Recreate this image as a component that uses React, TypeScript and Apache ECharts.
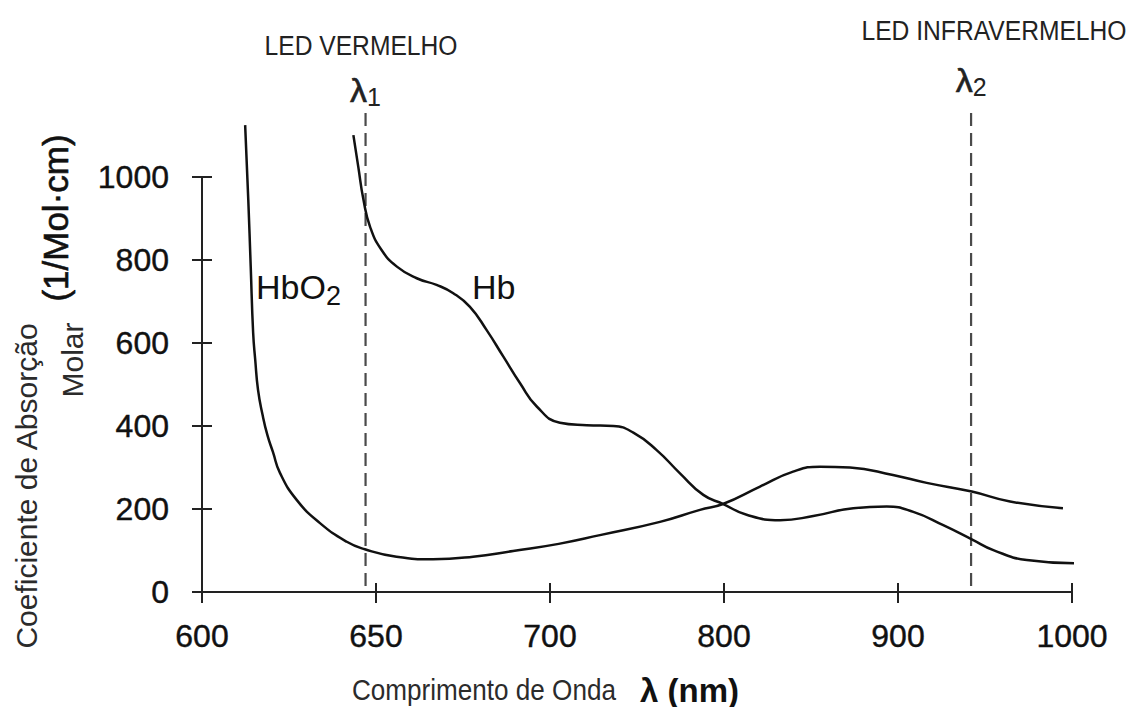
import React, { useEffect, useRef } from 'react';
import * as echarts from 'echarts';

// Axis ticks (wavelength in nm) – the original axis spaces them evenly
const tickNm = [600, 650, 700, 800, 900, 1000];
const tickLabels = ['600', '650', '700', '800', '900', '1000'];
const yMin = 0;
const yMax = 1000;
const yStep = 200;
const yTickValues = [0, 200, 400, 600, 800, 1000];

// HbO2 absorption curve (nm, molar absorption coefficient)
const hbo2Nm = [612.4, 613.3, 614.0, 614.7, 615.3, 616.1, 617.4, 618.8, 620.4, 622.4, 627.2, 633.9, 641.6, 646.8, 655.9, 666.4, 677.9, 689.4, 705, 728.7, 763.2, 786.2, 799.4, 820.7, 839.7, 855.2, 872.4, 897.1, 916.5, 942.4, 964.4, 994.8];
const hbo2Val = [1125, 945, 784, 624, 559, 487, 427, 378, 337, 287, 222, 166, 121, 103, 85, 79, 85, 99, 116, 137, 169, 198, 212, 254, 290, 302, 300, 282, 263, 242, 218, 202];

// Hb absorption curve
const hbNm = [643.5, 644.9, 646.4, 648.3, 651.6, 656, 661.7, 667.4, 672.2, 677, 681.8, 686.6, 691.4, 696.2, 705.7, 721.1, 736.4, 747.9, 761.3, 774.7, 788.1, 799.6, 813, 832.2, 851.3, 874.3, 893.5, 908.8, 926, 942.4, 954.8, 974, 1002];
const hbVal = [1101, 1025, 945, 880, 824, 784, 756, 740, 720, 687, 631, 567, 503, 447, 408, 402, 400, 384, 342, 286, 234, 212, 186, 173, 183, 202, 206, 193, 161, 127, 101, 77, 69];

// LED wavelengths (dashed markers)
const ledNm = [647, 942];
const ledSub = ['1', '2'];
const ledTop = 1154;

const FONT = '"Liberation Sans", Arial, Helvetica, sans-serif';

function nmToPos(nm: number): number {
  for (let i = 0; i < tickNm.length - 1; i++) {
    if (nm <= tickNm[i + 1] || i === tickNm.length - 2) {
      return i + (nm - tickNm[i]) / (tickNm[i + 1] - tickNm[i]);
    }
  }
  return 0;
}

const AXIS_COLOR = '#222';
const GRID = { left: 202, right: 65, top: 177, bottom: 115 };
const CHART_W = 1137;
const CHART_H = 707;

export default function App() {
  const ref = useRef<HTMLDivElement>(null);

  useEffect(() => {
    if (!ref.current) return;
    const chart = echarts.init(ref.current, undefined, { renderer: 'svg' });

    // inner half of the crossing ticks (9-10 px), expressed in axis units
    const plotW = CHART_W - GRID.left - GRID.right;
    const plotH = CHART_H - GRID.top - GRID.bottom;
    const xUnitsPerPx = (tickNm.length - 1) / plotW;
    const yUnitsPerPx = (yMax - yMin) / plotH;
    const innerTickLines = [
      ...tickLabels.map((_, i) => [
        { coord: [i, yMin] },
        { coord: [i, yMin + 9 * yUnitsPerPx] },
      ]),
      ...yTickValues.map((v) => [
        { coord: [0, v] },
        { coord: [10 * xUnitsPerPx, v] },
      ]),
    ];

    const ledSeries = ledNm.map((nm, k) => ({
      type: 'line',
      data: [
        {
          value: [nmToPos(nm), ledTop],
          label: {
            show: true,
            position: 'top',
            distance: k === 0 ? 3 : 13,
            formatter: '{l|λ}{s|' + ledSub[k] + '}',
            rich: {
              l: { fontSize: 34, fontFamily: FONT, color: '#222', lineHeight: 40, verticalAlign: 'middle', textBorderColor: '#222', textBorderWidth: 0.6 },
              s: { fontSize: 25, fontFamily: FONT, color: '#222', lineHeight: 24, verticalAlign: 'bottom' },
            },
          },
        },
        { value: [nmToPos(nm), 0] },
      ],
      symbol: 'circle',
      symbolSize: 1,
      showSymbol: true,
      itemStyle: { color: 'rgba(0,0,0,0)' },
      clip: false,
      silent: true,
      z: 1,
      lineStyle: { color: '#4a4a4a', width: 2.2, type: [13, 7] },
    }));

    const option: any = {
      animation: false,
      backgroundColor: '#ffffff',
      grid: { ...GRID },
      xAxis: {
        type: 'value',
        min: 0,
        max: tickNm.length - 1,
        interval: 1,
        position: 'bottom',
        splitLine: { show: false },
        axisLine: { show: true, onZero: false, lineStyle: { color: AXIS_COLOR, width: 2 } },
        axisTick: { show: true, inside: false, length: 11, lineStyle: { color: AXIS_COLOR, width: 2 } },
        axisLabel: {
          formatter: (v: number) => tickLabels[Math.round(v)] ?? '',
          fontSize: 32,
          color: '#111',
          fontFamily: FONT,
          margin: 28,
          textBorderColor: '#111',
          textBorderWidth: 0.4,
        },
      },
      yAxis: {
        type: 'value',
        min: yMin,
        max: yMax,
        interval: yStep,
        position: 'left',
        splitLine: { show: false },
        axisLine: { show: true, onZero: false, lineStyle: { color: AXIS_COLOR, width: 2 } },
        axisTick: { show: true, inside: false, length: 10, lineStyle: { color: AXIS_COLOR, width: 2 } },
        axisLabel: {
          formatter: (v: number) => String(v),
          fontSize: 32,
          color: '#111',
          fontFamily: FONT,
          margin: 33,
          textBorderColor: '#111',
          textBorderWidth: 0.4,
        },
      },
      series: [
        ...ledSeries,
        {
          name: 'HbO2',
          type: 'line',
          data: hbo2Nm.map((n, i) => [nmToPos(n), hbo2Val[i]]),
          smooth: 0.5,
          symbol: 'none',
          clip: false,
          z: 3,
          lineStyle: { color: '#111', width: 2.5 },
          markLine: {
            silent: true,
            animation: false,
            symbol: ['none', 'none'],
            label: { show: false },
            emphasis: { disabled: true },
            lineStyle: { color: AXIS_COLOR, width: 2, type: 'solid' },
            data: innerTickLines,
          },
        },
        {
          name: 'Hb',
          type: 'line',
          data: hbNm.map((n, i) => [nmToPos(n), hbVal[i]]),
          smooth: 0.5,
          symbol: 'none',
          clip: false,
          z: 3,
          lineStyle: { color: '#111', width: 2.5 },
        },
      ],
      graphic: [
        {
          type: 'text',
          x: 361,
          y: 45,
          scaleX: 0.88,
          style: { text: 'LED VERMELHO', fontSize: 28, fontFamily: FONT, fill: '#222', align: 'center', verticalAlign: 'middle' },
        },
        {
          type: 'text',
          x: 994,
          y: 30,
          scaleX: 0.88,
          style: { text: 'LED INFRAVERMELHO', fontSize: 28, fontFamily: FONT, fill: '#222', align: 'center', verticalAlign: 'middle' },
        },
        {
          type: 'text',
          x: 352,
          y: 690,
          scaleX: 0.9,
          style: { text: 'Comprimento de Onda', fontSize: 29, fontFamily: FONT, fill: '#2b2b2b', align: 'left', verticalAlign: 'middle' },
        },
        {
          type: 'text',
          x: 640,
          y: 690,
          style: { text: 'λ (nm)', fontSize: 33, fontWeight: 'bold', fontFamily: FONT, fill: '#111', align: 'left', verticalAlign: 'middle' },
        },
        {
          type: 'text',
          x: 256,
          y: 287,
          style: {
            text: '{m|HbO}{s|2}',
            align: 'left',
            verticalAlign: 'middle',
            rich: {
              m: { fontSize: 34, fontFamily: FONT, fill: '#111', color: '#111', lineHeight: 44, verticalAlign: 'middle' },
              s: { fontSize: 27, fontFamily: FONT, fill: '#111', color: '#111', lineHeight: 26, verticalAlign: 'bottom' },
            },
          },
        },
        {
          type: 'text',
          x: 472,
          y: 287,
          style: { text: 'Hb', fontSize: 34, fontFamily: FONT, fill: '#111', align: 'left', verticalAlign: 'middle' },
        },
        {
          type: 'text',
          x: 26,
          y: 486,
          rotation: Math.PI / 2,
          style: { text: 'Coeficiente de Absorção', fontSize: 30, fontFamily: FONT, fill: '#2b2b2b', align: 'center', verticalAlign: 'middle' },
        },
        {
          type: 'text',
          x: 72,
          y: 360,
          rotation: Math.PI / 2,
          style: { text: 'Molar', fontSize: 30, fontFamily: FONT, fill: '#2b2b2b', align: 'center', verticalAlign: 'middle' },
        },
        {
          type: 'text',
          x: 55,
          y: 218,
          rotation: Math.PI / 2,
          style: { text: '(1/Mol·cm)', fontSize: 35, fontFamily: FONT, fill: '#111', align: 'center', verticalAlign: 'middle', stroke: '#111', lineWidth: 0.6 },
        },
      ],
    };

    chart.setOption(option);
    return () => {
      chart.dispose();
    };
  }, []);

  return (
    <div
      ref={ref}
      style={{ position: 'absolute', left: 0, top: 0, width: CHART_W, height: CHART_H, background: '#fff' }}
    />
  );
}
